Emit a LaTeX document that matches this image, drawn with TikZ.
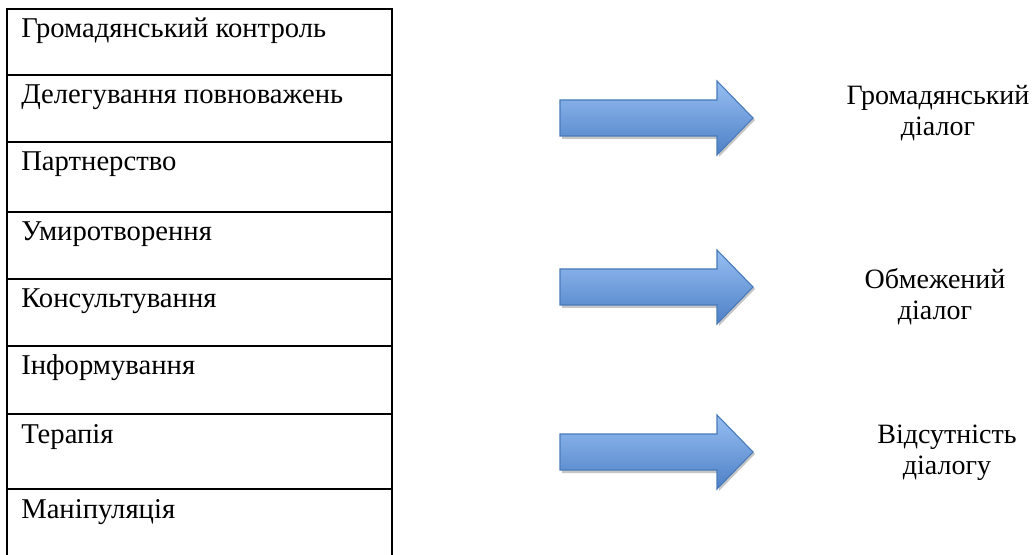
\documentclass[tikz,border=0pt]{standalone}
\usepackage{fontspec}
\setmainfont{Liberation Serif}
\definecolor{arrowtop}{RGB}{150,190,242}
\definecolor{arrowbot}{RGB}{78,128,198}
\definecolor{arrowline}{RGB}{72,122,186}

\begin{document}
\begin{tikzpicture}[x=0.75pt,y=-0.75pt,
    row/.style={line width=1.5pt},
    rowtext/.style={anchor=base west,inner sep=0pt,font=\fontsize{21.5}{25}\selectfont},
    goal/.style={align=center,inner sep=0pt,font=\fontsize{21}{23.5}\selectfont},
    blockarrow/.style={draw=arrowline,line width=0.8pt,top color=arrowtop,bottom color=arrowbot},
    arrowshadow/.style={fill=gray!45}]
    \useasboundingbox (0,0) rectangle (1034,555);
    \clip (0,0) rectangle (1034,555);
    \foreach \ya/\yb/\txt [count=\i] in {9/75/Громадянський контроль, 75/142/Делегування повноважень,
        142/212/Партнерство, 212/279/Умиротворення, 279/346/Консультування,
        346/414/Інформування, 414/489/Терапія, 489/600/Маніпуляція}
    {
        \draw[row] (7,\ya) rectangle (392,\yb);
        \node[rowtext] (level\i) at (21,\ya+29) {\txt};
    }
    \foreach \c/\gx/\gy/\txt [count=\i] in {118/938/113/{Громадянський\\діалог},
        287/935/297/{Обмежений\\діалог}, 452/947/453/{Відсутність\\діалогу}}
    {
        \fill[arrowshadow] (562,\c+18) -- (719,\c+18) -- (719,\c+39) -- (755,\c+2) -- (753,\c) -- (717,\c+37) -- (717,\c+21) -- (562,\c+21) -- cycle;
        \path[blockarrow] (560,\c-18) -- (717,\c-18) -- (717,\c-37) -- (753,\c) -- (717,\c+37) -- (717,\c+18) -- (560,\c+18) -- cycle;
        \node[goal] (goal\i) at (\gx,\gy) {\txt};
    }
\end{tikzpicture}
\end{document}
